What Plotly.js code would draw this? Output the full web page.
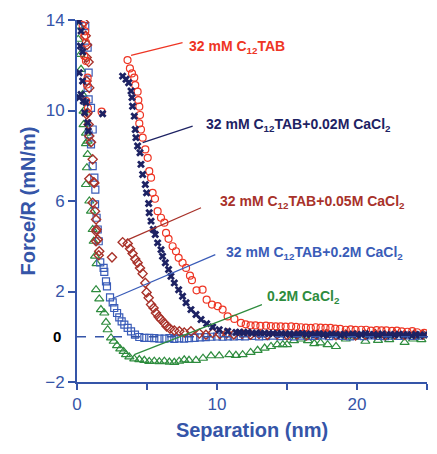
<!DOCTYPE html>
<html>
<head>
<meta charset="utf-8">
<script src="https://cdn.plot.ly/plotly-3.0.1.min.js"></script>
<style>
  html, body { margin: 0; padding: 0; background: #fff; }
  #chart { width: 437px; height: 454px; }
</style>
</head>
<body>
<div id="chart"></div>
<script>
// Force/R vs separation for C12TAB / CaCl2 solutions (surface force measurements)

// 32 mM C12TAB
const c12tabX = [0.40,0.59,0.52,0.64,0.52,0.64,0.76,0.71,0.66,0.78,1.76,
  3.61,3.78,3.93,4.09,4.16,4.33,4.38,4.45,4.50,4.45,4.57,4.69,4.88,5.05,5.16,5.29,5.40,5.57,5.76,6.00,6.24,6.36,6.54,6.83,7.07,7.26,7.54,7.79,8.07,8.21,8.54,8.97,9.26,9.64,10.05,10.40,10.76,11.24,11.71,
  12.05,12.40,12.75,13.10,13.50,13.85,14.20,14.55,14.90,15.30,15.65,16.00,16.35,16.70,17.05,17.40,17.75,18.10,18.45,18.80,19.20,19.55,19.90,20.30,20.65,21.00,21.40,21.75,22.10,22.50,22.85,23.20,23.60,23.95,24.30,24.80];
const c12tabY = [13.77,13.50,13.29,13.00,12.41,12.19,11.45,11.15,10.42,10.10,9.95,
  12.23,11.86,11.64,11.45,11.12,10.83,10.46,10.17,9.80,9.43,9.16,8.80,8.28,7.91,7.32,7.03,6.36,6.10,5.55,5.26,5.04,4.59,4.33,4.00,3.78,3.49,3.27,3.04,2.70,2.50,2.05,2.08,1.64,1.42,1.35,1.20,0.90,0.79,0.61,
  0.55,0.50,0.50,0.48,0.49,0.47,0.46,0.46,0.45,0.46,0.44,0.42,0.40,0.39,0.42,0.40,0.39,0.39,0.36,0.35,0.31,0.33,0.30,0.31,0.31,0.27,0.29,0.28,0.28,0.26,0.27,0.24,0.22,0.25,0.20,0.17];

// 32 mM C12TAB + 0.02 M CaCl2
const ca002X = [0.11,0.29,0.24,0.40,0.16,0.40,0.29,0.16,0.45,0.64,0.55,0.76,0.81,1.83,
  3.26,3.50,3.69,3.86,3.93,3.97,4.09,4.16,4.21,4.33,4.50,4.57,4.69,4.88,4.97,5.12,5.16,5.29,5.45,5.59,5.76,6.00,6.11,6.31,6.54,6.71,6.95,7.26,7.54,7.79,8.14,8.50,8.86,9.26,9.69,10.16,10.76,11.36,
  11.60,11.90,12.20,12.50,12.80,13.10,13.40,13.70,14.00,14.30,14.60,14.90,15.20,15.50,15.80,16.10,16.40,16.70,17.00,17.30,17.60,17.90,18.20,18.50,18.80,19.10,19.40,19.70,20.00,20.30,20.60,20.90,21.20,21.50,21.80,22.10,22.40,22.70,23.00,23.30,23.60,23.90,24.20,24.50,24.80];
const ca002Y = [13.93,13.51,12.85,12.60,11.67,11.30,10.71,10.57,10.42,10.35,9.90,9.46,9.09,9.86,
  11.52,11.38,11.23,10.86,10.57,10.19,9.75,9.16,8.80,8.43,8.13,7.62,7.17,6.73,6.36,5.89,5.48,5.11,4.74,4.52,4.15,3.85,3.56,3.27,2.97,2.67,2.38,2.08,1.79,1.50,1.20,0.98,0.76,0.58,0.43,0.31,0.24,0.19,
  0.20,0.18,0.20,0.15,0.17,0.14,0.16,0.13,0.15,0.12,0.14,0.11,0.13,0.10,0.12,0.14,0.10,0.12,0.09,0.13,0.10,0.08,0.12,0.10,0.07,0.11,0.09,0.12,0.08,0.10,0.13,0.07,0.10,0.08,0.12,0.06,0.10,0.08,0.11,0.07,0.09,0.05,0.10,0.06,0.08];

// 32 mM C12TAB + 0.05 M CaCl2
const ca005X = [0.50,0.62,0.72,0.69,0.83,0.69,0.88,0.76,0.69,0.83,0.88,1.00,1.12,0.88,1.19,1.24,1.12,1.29,1.36,1.36,1.40,1.48,1.36,1.59,1.55,2.50,
  3.26,3.62,3.79,3.97,4.16,4.33,4.50,4.69,4.88,4.97,5.12,5.29,5.47,5.64,5.83,6.00,6.24,6.40,6.64,6.95,7.31,7.66,8.14,8.74,9.21,9.69,
  10.20,10.70,11.20,11.80,12.40,13.00,13.60,14.30,15.00,15.70,16.40,17.10,17.80,18.50,19.20,19.90,20.60,21.30,22.00,22.70,23.40,24.10,24.70];
const ca005Y = [13.90,13.30,12.90,12.34,12.14,11.30,11.00,9.90,9.83,9.38,8.87,8.60,7.84,6.98,6.83,6.80,5.92,5.55,5.18,4.66,4.74,4.30,4.22,3.78,3.60,3.51,
  4.18,4.12,3.89,3.68,3.44,3.27,3.04,2.79,2.38,1.96,1.72,1.42,1.27,1.05,0.88,0.76,0.61,0.46,0.36,0.28,0.24,0.19,0.24,0.14,0.09,0.17,
  0.12,0.15,0.10,0.13,0.09,0.12,0.08,0.11,0.07,0.10,0.06,0.09,0.12,0.07,0.10,0.06,0.09,0.12,0.07,0.10,0.08,0.11,0.09];

// 32 mM C12TAB + 0.2 M CaCl2
const ca02X = [0.59,0.76,0.83,0.76,0.83,1.00,1.12,0.83,1.00,1.12,1.24,1.31,1.29,1.40,1.48,1.55,1.66,1.90,1.95,2.07,2.14,2.36,2.55,2.66,2.86,3.02,3.19,3.38,3.62,3.86,4.14,4.45,4.81,5.16,5.52,5.88,
  6.25,6.60,6.95,7.30,7.65,8.00,8.40,8.80,9.20,9.60,10.00,10.40,10.80,11.20,11.60,12.00,12.50,13.00,13.50,14.00,14.50,15.00,15.50,16.00,16.50,17.00,17.50,18.00,18.50,19.00,19.50,20.00,20.50,21.00,21.50,22.00,22.50,23.00,23.50,24.00,24.50];
const ca02Y = [13.73,12.78,11.67,11.00,10.49,10.12,9.16,8.94,8.50,7.54,7.03,6.50,5.85,5.26,4.74,4.22,3.29,3.04,2.87,2.45,2.23,1.74,1.52,1.27,1.05,0.86,0.68,0.54,0.39,0.24,0.09,-0.01,-0.05,-0.05,-0.06,-0.08,
  -0.08,-0.06,-0.09,-0.07,-0.08,-0.06,-0.05,-0.03,-0.02,0.00,0.01,0.00,0.02,0.01,0.03,0.02,0.04,0.02,0.03,0.05,0.03,0.04,0.02,0.05,0.03,0.04,0.06,0.03,0.05,0.04,0.02,0.05,0.03,0.06,0.04,0.03,0.05,0.04,0.06,0.04,0.05];

// 0.2 M CaCl2
const cacl2X = [0.16,0.09,0.24,0.29,0.40,0.47,0.47,0.64,0.76,0.64,0.76,0.71,0.64,0.88,1.00,1.12,1.19,1.29,1.40,1.36,1.59,1.71,1.95,2.07,2.19,2.43,2.62,2.86,3.09,3.33,3.50,3.74,4.09,4.45,4.81,5.16,5.52,5.88,6.24,6.60,6.95,7.30,7.66,8.00,8.50,9.00,9.57,10.16,10.88,11.35,11.83,12.40,12.90,13.40,13.86,14.30,14.70,15.00,15.50,16.00,16.50,16.95,17.40,17.90,18.50,19.20,19.80,20.60,21.50,22.30,23.40,24.00,24.60];
const cacl2Y = [13.73,13.15,12.48,11.82,10.71,9.97,9.38,9.00,8.65,8.54,8.06,7.47,6.73,6.00,5.55,4.74,4.22,3.56,3.23,2.08,1.67,1.20,1.05,0.64,0.31,-0.05,-0.20,-0.39,-0.54,-0.65,-0.79,-0.89,-0.98,-1.01,-1.04,-1.09,-1.08,-1.10,-1.08,-1.12,-1.13,-1.08,-1.02,-1.04,-1.04,-0.95,-0.84,-0.84,-0.79,-0.82,-0.79,-0.69,-0.60,-0.50,-0.43,-0.35,-0.35,-0.35,-0.17,-0.10,-0.17,-0.30,-0.27,-0.35,-0.43,-0.10,-0.01,-0.20,-0.16,-0.13,-0.25,-0.10,-0.13];

// Axis ticks: labelled majors, unlabelled minor ticks every 5 nm
const yTicks = [-2, 2, 6, 10, 14];
const xTicks = [0, 10, 20];

const axisBlue = '#3555a8';
const colRed = '#ee3524';
const colNavy = '#1d2263';
const colDarkRed = '#a8322a';
const colBlue = '#3a5cb8';
const colGreen = '#2e8c3e';

function series(x, y, symbol, color, size, width) {
  return {
    x: x, y: y, type: 'scatter', mode: 'markers', hoverinfo: 'skip',
    marker: { symbol: symbol, size: size, color: color, line: { color: color, width: width } }
  };
}

const data = [
  series(cacl2X, cacl2Y, 'triangle-up-open', colGreen, 8, 1.2),
  series(ca02X, ca02Y, 'square-open', colBlue, 7, 1.2),
  series(ca005X, ca005Y, 'diamond-open', colDarkRed, 7, 1.4),
  series(c12tabX, c12tabY, 'circle-open', colRed, 7, 1.2),
  series(ca002X, ca002Y, 'x', colNavy, 7, 0)
];

// leader lines from each curve to its label
function leader(x0, y0, x1, y1, color) {
  return { type: 'line', xref: 'x', yref: 'y', x0: x0, y0: y0, x1: x1, y1: y1,
           line: { color: color, width: 1.2 } };
}

const shapes = [
  { type: 'line', xref: 'paper', yref: 'y', x0: 0, x1: 1.03, y0: 0, y1: 0,
    line: { color: axisBlue, width: 1.5, dash: 'dash' } },
  leader(3.86, 12.44, 7.54, 13.0, colRed),
  leader(4.69, 8.58, 8.26, 9.31, colNavy),
  leader(3.57, 4.27, 8.86, 5.70, colDarkRed),
  leader(2.54, 1.69, 9.88, 3.63, colBlue),
  leader(4.09, -0.79, 13.21, 1.42, colGreen)
];

function label(x, y, text, color) {
  return { x: x, y: y, xref: 'x', yref: 'y', xanchor: 'left', yanchor: 'middle',
           showarrow: false, text: '<b>' + text + '</b>',
           font: { family: 'Liberation Sans, Arial, sans-serif', size: 14, color: color } };
}

const annotations = [
  label(7.85, 12.8, '32 mM C<sub>12</sub>TAB', colRed),
  label(9.04, 9.34, '32 mM C<sub>12</sub>TAB+0.02M CaCl<sub>2</sub>', colNavy),
  label(10.06, 5.95, '32 mM C<sub>12</sub>TAB+0.05M CaCl<sub>2</sub>', colDarkRed),
  label(10.47, 3.71, '32 mM C<sub>12</sub>TAB+0.2M CaCl<sub>2</sub>', colBlue),
  label(13.4, 1.74, '0.2M CaCl<sub>2</sub>', colGreen),
  { x: -0.04, y: 0, xref: 'paper', yref: 'y', xanchor: 'right', yanchor: 'middle',
    showarrow: false, text: '<b>0</b>',
    font: { family: 'Liberation Sans, Arial, sans-serif', size: 15, color: '#000' } }
];

const layout = {
  width: 437, height: 454,
  margin: { l: 77, r: 10, t: 20, b: 72 },
  paper_bgcolor: '#fff', plot_bgcolor: '#fff',
  showlegend: false,
  font: { family: 'Liberation Sans, Arial, sans-serif', color: axisBlue },
  xaxis: {
    range: [0, 25], tickmode: 'array', tickvals: xTicks,
    showgrid: false, zeroline: false, showline: true, linecolor: axisBlue, linewidth: 2,
    ticks: 'outside', ticklen: 6, tickwidth: 2, tickcolor: axisBlue,
    minor: { dtick: 5, tick0: 0, ticks: 'outside', ticklen: 6, tickwidth: 2, tickcolor: axisBlue, showgrid: false },
    tickfont: { size: 17, color: axisBlue },
    title: { text: '<b>Separation (nm)</b>', font: { size: 20, color: axisBlue }, standoff: 10 }
  },
  yaxis: {
    range: [-2, 14], tickmode: 'array', tickvals: yTicks,
    showgrid: false, zeroline: false, showline: true, linecolor: axisBlue, linewidth: 2,
    ticks: 'outside', ticklen: 7, tickwidth: 2, tickcolor: axisBlue,
    tickfont: { size: 17, color: axisBlue },
    title: { text: '<b>Force/R (mN/m)</b>', font: { size: 20, color: axisBlue }, standoff: 4 }
  },
  shapes: shapes,
  annotations: annotations
};

Plotly.newPlot('chart', data, layout, { staticPlot: true, displayModeBar: false });
</script>
</body>
</html>
